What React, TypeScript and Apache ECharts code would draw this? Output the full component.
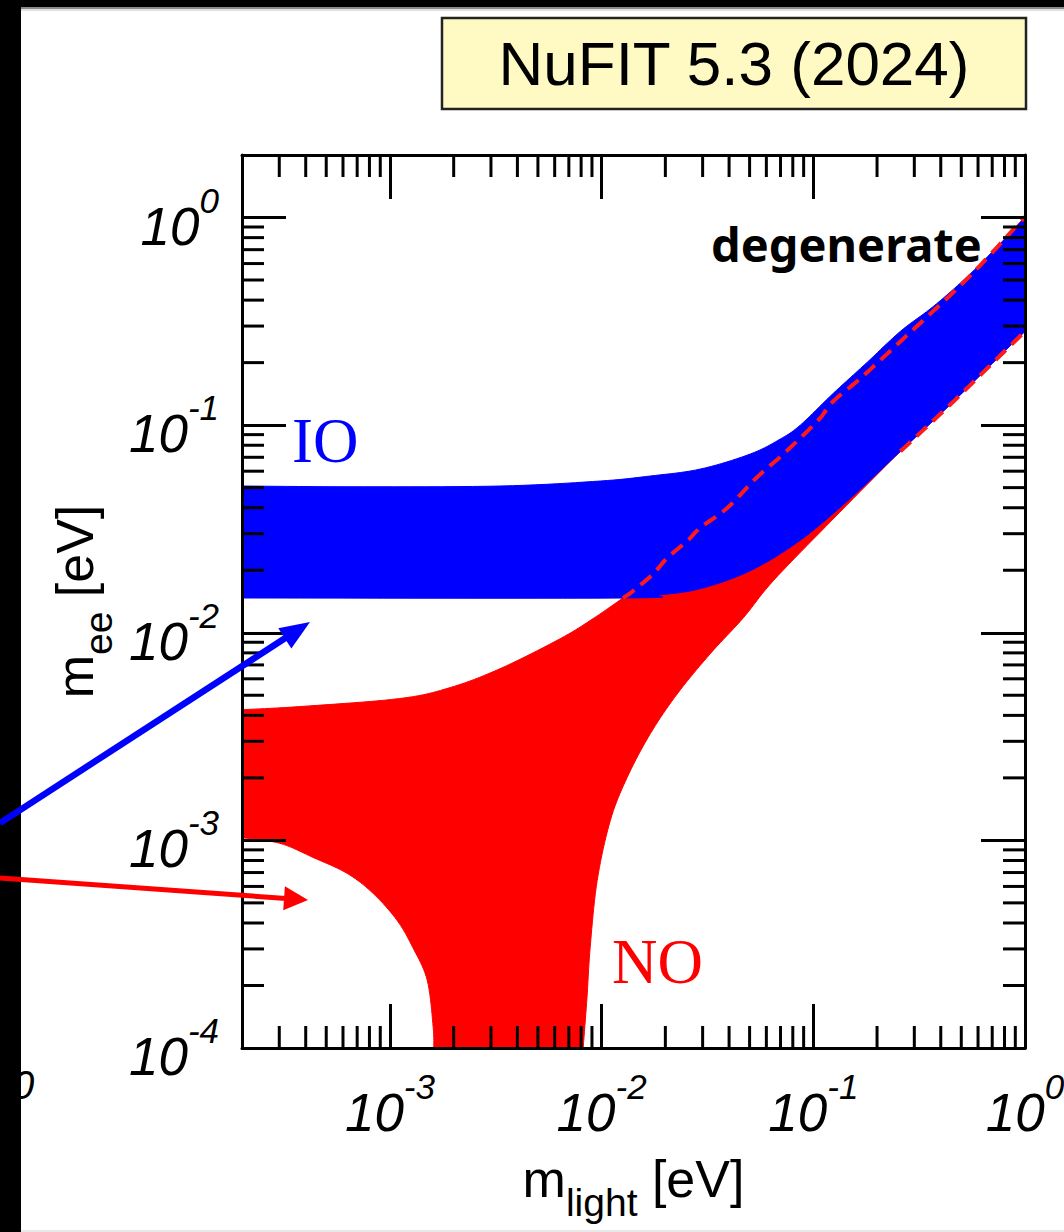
import React, { useEffect, useRef } from "react";
import * as echarts from "echarts";

// ---- axis ranges ----
const X_MIN = 2e-4;
const X_MAX = 1;
const Y_MIN = 1e-4;
const Y_MAX = 2;
const MANTISSAS = [2, 3, 4, 5, 6, 7, 8, 9];
const DECADES_X = [1e-4, 1e-3, 1e-2, 1e-1];
const DECADES_Y = [1e-4, 1e-3, 1e-2, 1e-1, 1];

// ---- IO band (inverted ordering) ----
const ioUpper: number[][] = [
  [2e-4, 0.0509], [6.47e-4, 0.0505], [3.31e-3, 0.0509], [9.84e-3, 0.0538],
  [1.7e-2, 0.0569], [2.92e-2, 0.0614], [5.04e-2, 0.0726], [6.98e-2, 0.0857],
  [8.68e-2, 0.1], [0.124, 0.142], [0.18, 0.201], [0.258, 0.283],
  [0.369, 0.373], [0.535, 0.52], [0.766, 0.75], [1.0, 1.0],
];
const ioLower: number[][] = [
  [2e-4, 0.0147], [1.26e-2, 0.0147], [1.89e-2, 0.01523], [2.92e-2, 0.0163],
  [5.04e-2, 0.0199], [8.68e-2, 0.0279], [0.15, 0.0445], [0.258, 0.0748],
  [0.445, 0.126], [0.766, 0.217], [1.0, 0.283],
];

// ---- NO region (normal ordering) ----
const noUpper: number[][] = [
  [2e-4, 4.26e-3], [3.75e-4, 4.41e-3], [1.11e-3, 4.82e-3], [1.92e-3, 5.44e-3],
  [3.31e-3, 6.71e-3], [6.37e-3, 9.36e-3], [9.12e-3, 0.0117], [1.26e-2, 0.0147],
];
const noUpperHidden: number[][] = [
  [1.26e-2, 0.0147], [1.41e-2, 0.0159], [1.75e-2, 0.0192], [2.04e-2, 0.0229],
  [2.54e-2, 0.0277], [2.92e-2, 0.032], [3.92e-2, 0.0399], [5.2e-2, 0.0538],
  [6.06e-2, 0.0621], [7.22e-2, 0.0726], [0.1045, 0.1045], [0.124, 0.13],
  [0.167, 0.168], [0.258, 0.253], [0.535, 0.509], [0.953, 0.956], [1.0, 1.0],
];
const noLowerRight: number[][] = [
  [1.0, 0.283], [0.766, 0.217], [0.445, 0.126], [0.258, 0.0748], [0.124, 0.0353],
  [6.47e-2, 0.0178], [4.67e-2, 0.0118], [3.26e-2, 7.93e-3], [2.28e-2, 5.09e-3],
  [1.7e-2, 3.27e-3], [1.32e-2, 2.01e-3], [1.1e-2, 1.25e-3], [9.53e-3, 6.42e-4],
  [8.83e-3, 3.06e-4], [8.53e-3, 1.76e-4], [8.18e-3, 1e-4],
];
const noHoleLeft: number[][] = [
  [1.61e-3, 1e-4], [1.6e-3, 1.26e-4], [1.5e-3, 2.12e-4], [1.28e-3, 3.06e-4],
  [1.08e-3, 4.12e-4], [8.32e-4, 5.56e-4], [6.27e-4, 6.94e-4], [4.33e-4, 8.28e-4],
  [3.02e-4, 9.68e-4], [2e-4, 1.03e-3],
];
const dashLower: number[][] = [
  [0.258, 0.0748], [0.445, 0.126], [0.766, 0.217], [1.0, 0.283],
];

const TITLE = "NuFIT 5.3 (2024)";
const FONT = "'Liberation Sans', Arial, sans-serif";
const SERIF = "'Liberation Serif', 'Times New Roman', serif";

const minorX = DECADES_X.flatMap((d) => MANTISSAS.map((m) => m * d)).filter(
  (v) => v > X_MIN * 1.0001 && v < X_MAX * 0.9999
);
const minorY = DECADES_Y.flatMap((d) => MANTISSAS.map((m) => m * d)).filter(
  (v) => v > Y_MIN * 1.0001 && v < Y_MAX * 0.9999
);

// Catmull-Rom smoothing of a pixel-space path (rendering only)
function smoothPath(pts: number[][], steps = 10): number[][] {
  if (pts.length < 3) return pts;
  const out: number[][] = [];
  for (let i = 0; i < pts.length - 1; i++) {
    const p0 = pts[Math.max(0, i - 1)];
    const p1 = pts[i];
    const p2 = pts[i + 1];
    const p3 = pts[Math.min(pts.length - 1, i + 2)];
    for (let s = 0; s < steps; s++) {
      const t = s / steps, t2 = t * t, t3 = t2 * t;
      const f = (a: number, b: number, c: number, d: number) =>
        0.5 * (2 * b + (-a + c) * t + (2 * a - 5 * b + 4 * c - d) * t2 + (-a + 3 * b - 3 * c + d) * t3);
      out.push([f(p0[0], p1[0], p2[0], p3[0]), f(p0[1], p1[1], p2[1], p3[1])]);
    }
  }
  out.push(pts[pts.length - 1]);
  return out;
}

function regionSeries(name: string, edges: number[][][], color: string, z: number) {
  return {
    type: "custom",
    name,
    coordinateSystem: "cartesian2d",
    xAxisIndex: 0,
    yAxisIndex: 0,
    z,
    silent: true,
    clip: true,
    data: [[0.01, 0.01]],
    renderItem: (_p: any, api: any) => {
      const pts: number[][] = [];
      for (const e of edges) pts.push(...smoothPath(e.map((p) => api.coord(p))));
      return {
        type: "polygon",
        shape: { points: pts },
        style: { fill: color, stroke: color, lineWidth: 1 },
      };
    },
  };
}

function dashedSeries(name: string, pts: number[][]) {
  return {
    type: "custom",
    name,
    coordinateSystem: "cartesian2d",
    xAxisIndex: 0,
    yAxisIndex: 0,
    z: 4,
    silent: true,
    clip: true,
    data: [[0.01, 0.01]],
    renderItem: (_p: any, api: any) => ({
      type: "polyline",
      shape: { points: smoothPath(pts.map((p) => api.coord(p))) },
      style: { stroke: "#ff1a1a", lineWidth: 4, lineDash: [14, 8], fill: null },
    }),
  };
}

const labelFormatter = (v: number) => {
  const e = Math.round(Math.log10(v));
  return `{b|10}{s|${e}}`;
};
const labelRich = {
  b: { fontFamily: FONT, fontStyle: "italic", fontSize: 53, lineHeight: 53, color: "#000", verticalAlign: "bottom" },
  s: { fontFamily: FONT, fontStyle: "italic", fontSize: 35, color: "#000", verticalAlign: "bottom", padding: [0, 0, 35, 0] },
};
const nameRich = {
  m: { fontFamily: FONT, fontSize: 52, lineHeight: 52, color: "#000", verticalAlign: "top" },
  sub: { fontFamily: FONT, fontSize: 39, color: "#000", verticalAlign: "top", padding: [30, 0, 0, 0] },
};

const axisCommon = {
  type: "log",
  logBase: 10,
  z: 10,
  axisLine: { show: true, onZero: false, lineStyle: { color: "#000", width: 3 } },
  axisTick: { show: true, inside: true, length: 44, lineStyle: { color: "#000", width: 3 } },
  splitLine: { show: false },
  minorTick: { show: false },
};

function arrow(x0: number, y0: number, tx: number, ty: number, len: number, half: number, w: number, color: string) {
  const dx = tx - x0, dy = ty - y0;
  const L = Math.hypot(dx, dy);
  const ux = dx / L, uy = dy / L;
  const bx = tx - len * ux, by = ty - len * uy;
  const px = -uy, py = ux;
  return [
    { type: "line", z: 100, shape: { x1: x0, y1: y0, x2: bx + ux * 2, y2: by + uy * 2 }, style: { stroke: color, lineWidth: w } },
    {
      type: "polygon", z: 100,
      shape: { points: [[tx, ty], [bx + px * half, by + py * half], [bx - px * half, by - py * half]] },
      style: { fill: color },
    },
  ];
}

const option: any = {
  animation: false,
  backgroundColor: "#fff",
  grid: { left: 242, top: 155, right: 39, bottom: 184, containLabel: false, outerBoundsMode: "none" },
  xAxis: [
    {
      ...axisCommon,
      min: X_MIN, max: X_MAX, position: "bottom",
      axisLabel: { margin: 21, showMinLabel: false, showMaxLabel: true, formatter: labelFormatter, rich: labelRich, hideOverlap: false },
      name: "{m|m}{sub|light}{m| [eV]}",
      nameLocation: "middle",
      nameGap: 105,
      nameTextStyle: { rich: nameRich },
    },
    { ...axisCommon, min: X_MIN, max: X_MAX, position: "top", axisLabel: { show: false } },
  ],
  yAxis: [
    {
      ...axisCommon,
      min: Y_MIN, max: Y_MAX, position: "left",
      axisLabel: { margin: 23, showMinLabel: true, showMaxLabel: false, formatter: labelFormatter, rich: labelRich, hideOverlap: false },
      name: "{m|m}{sub|ee}{m| [eV]}",
      nameLocation: "middle",
      nameRotate: 90,
      nameGap: 116,
      nameTextStyle: { rich: nameRich },
    },
    { ...axisCommon, min: Y_MIN, max: Y_MAX, position: "right", axisLabel: { show: false } },
  ],
  series: [
    regionSeries("NO", [noUpper, noUpperHidden.slice(1), noLowerRight, noHoleLeft], "#ff0000", 2),
    regionSeries("IO", [ioUpper, ioLower.slice().reverse()], "#0000ff", 3),
    dashedSeries("NO upper", noUpperHidden),
    dashedSeries("NO lower", dashLower),
    {
      type: "custom", name: "minor ticks", coordinateSystem: "cartesian2d", xAxisIndex: 0, yAxisIndex: 0,
      z: 10, silent: true, clip: false, data: [[0.01, 0.01]],
      renderItem: (_p: any, api: any) => {
        const children: any[] = [];
        const st = { stroke: "#000", lineWidth: 3 };
        for (const v of minorX) {
          const b = api.coord([v, Y_MIN]);
          const t = api.coord([v, Y_MAX]);
          children.push({ type: "line", shape: { x1: b[0], y1: b[1], x2: b[0], y2: b[1] - 22 }, style: st });
          children.push({ type: "line", shape: { x1: t[0], y1: t[1], x2: t[0], y2: t[1] + 22 }, style: st });
        }
        for (const v of minorY) {
          const l = api.coord([X_MIN, v]);
          const r = api.coord([X_MAX, v]);
          children.push({ type: "line", shape: { x1: l[0], y1: l[1], x2: l[0] + 22, y2: l[1] }, style: st });
          children.push({ type: "line", shape: { x1: r[0], y1: r[1], x2: r[0] - 22, y2: r[1] }, style: st });
        }
        return { type: "group", children };
      },
    },
  ],
  graphic: [
    { type: "text", z: 1, style: { x: 12, y: 1085, text: "0", font: `italic 40px ${FONT}`, fill: "#000", textVerticalAlign: "middle" } },
    { type: "rect", z: 50, shape: { x: 0, y: 0, width: 1064, height: 7 }, style: { fill: "#000" } },
    { type: "rect", z: 50, shape: { x: 0, y: 7, width: 1064, height: 2 }, style: { fill: "#8a8a8a" } },
    { type: "rect", z: 50, shape: { x: 0, y: 9, width: 1064, height: 2 }, style: { fill: "#e0e0e0" } },
    { type: "rect", z: 50, shape: { x: 0, y: 1230, width: 1064, height: 2 }, style: { fill: "#e8e8e8" } },
    { type: "rect", z: 51, shape: { x: 0, y: 0, width: 21, height: 1232 }, style: { fill: "#000" } },
    { type: "rect", z: 20, shape: { x: 442, y: 18, width: 584, height: 91 }, style: { fill: "#fffac3", stroke: "#222", lineWidth: 2.5 } },
    { type: "text", z: 21, style: { x: 734, y: 63.5, text: TITLE, font: `62px ${FONT}`, fill: "#000", textAlign: "center", textVerticalAlign: "middle" } },
    { type: "text", z: 21, style: { x: 711, y: 244, text: "degenerate", font: `bold 47px 'Noto Sans', ${FONT}`, fill: "#000", textAlign: "left", textVerticalAlign: "middle" } },
    { type: "text", z: 21, style: { x: 292, y: 441, text: "IO", font: `63px ${SERIF}`, fill: "#0000ff", textAlign: "left", textVerticalAlign: "middle" } },
    { type: "text", z: 21, style: { x: 612, y: 962, text: "NO", font: `63px ${SERIF}`, fill: "#ff0000", textAlign: "left", textVerticalAlign: "middle" } },
    ...arrow(0, 823, 310, 622, 30, 12, 6.5, "#0000ff"),
    ...arrow(0, 878, 308, 900, 24, 12, 5, "#ff0000"),
  ],
};

export default function App() {
  const ref = useRef<HTMLDivElement>(null);
  useEffect(() => {
    if (!ref.current) return;
    const chart = echarts.init(ref.current, null, { renderer: "svg" });
    chart.setOption(option);
    return () => chart.dispose();
  }, []);
  return (
    <div
      ref={ref}
      style={{ position: "fixed", left: 0, top: 0, width: 1064, height: 1232, background: "#fff" }}
    />
  );
}
